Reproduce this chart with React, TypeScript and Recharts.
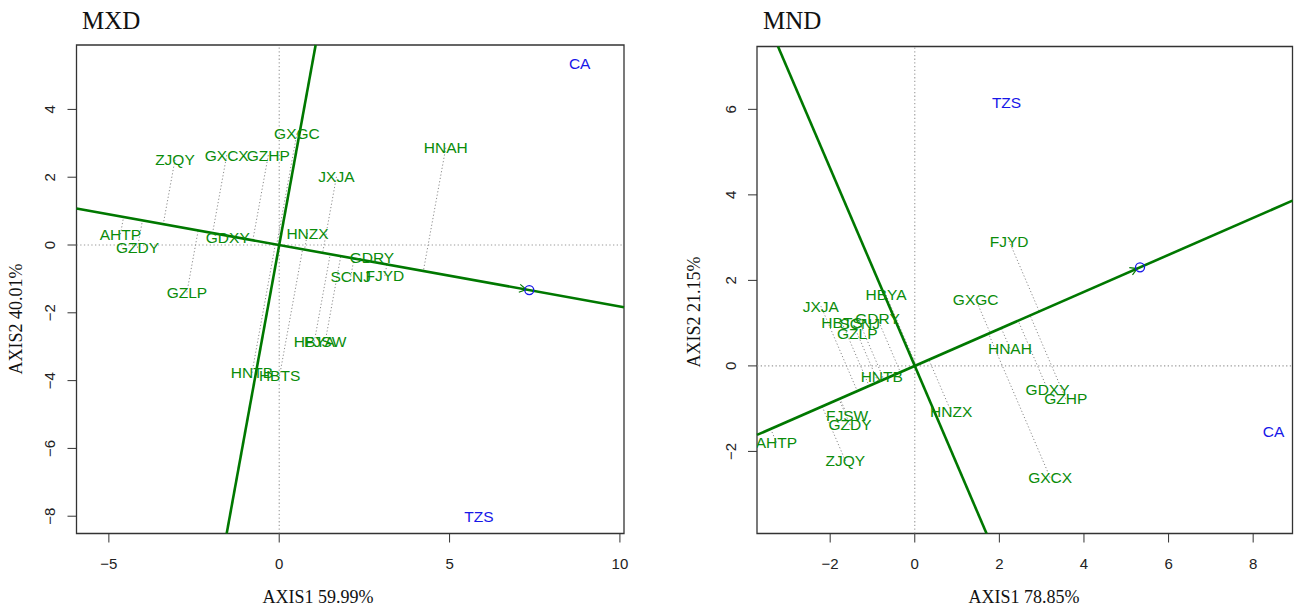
import React from "react";
import { ScatterChart, Scatter, XAxis, YAxis, ReferenceLine, ReferenceArea } from "recharts";

// genotype scores
const genotypes = ["AHTP", "FJSW", "FJYD", "GDRY", "GDXY", "GXCX", "GXGC", "GZDY", "GZHP", "GZLP", "HBTS", "HBYA", "HNAH", "HNTB", "HNZX", "JXJA", "SCNJ", "ZJQY"];
const mxdAxis1 = [-4.66, 1.35, 3.1, 2.72, -1.51, -1.54, 0.52, -4.16, -0.32, -2.71, 0.01, 1.03, 4.89, -0.8, 0.83, 1.68, 2.1, -3.06];
const mxdAxis2 = [0.32, -2.85, -0.91, -0.36, 0.22, 2.65, 3.29, -0.08, 2.65, -1.4, -3.86, -2.85, 2.87, -3.77, 0.35, 2.01, -0.93, 2.51];
const mndAxis1 = [-3.27, -1.6, 2.23, -0.88, 3.14, 3.2, 1.44, -1.53, 3.57, -1.36, -1.72, -0.68, 2.25, -0.78, 0.86, -2.22, -1.3, -1.64];
const mndAxis2 = [-1.79, -1.15, 2.92, 1.1, -0.55, -2.61, 1.56, -1.38, -0.77, 0.76, 1.01, 1.66, 0.41, -0.25, -1.07, 1.4, 1.0, -2.22];

// environment scores
const environments = ["CA", "TZS"];
const mxdEnv1 = [8.82, 5.86];
const mxdEnv2 = [5.34, -8.0];
const mndEnv1 = [8.48, 2.17];
const mndEnv2 = [-1.54, 6.15];

const mxdTicksX = [-5, 0, 5, 10];
const mxdTicksY = [-8, -6, -4, -2, 0, 2, 4];
const mndTicksX = [-2, 0, 2, 4, 6, 8];
const mndTicksY = [-2, 0, 2, 4, 6];

const SANS = "'Liberation Sans', Arial, sans-serif";
const SERIF = "'Liberation Serif', 'Times New Roman', serif";
const GREEN_TEXT = "#0a8c0a";
const GREEN_LINE = "#007800";
const BLUE = "#1717e8";

const fmt = (v: number) => (v < 0 ? "\u2212" + Math.abs(v) : String(v));

function XTick(props: any) {
  const { x, y, payload } = props;
  return (
    <text x={x} y={y + 26} textAnchor="middle" fontFamily={SANS} fontSize={15} fill="#222">
      {fmt(payload.value)}
    </text>
  );
}

function YTick(props: any) {
  const { x, y, payload } = props;
  const bx = x - 12;
  return (
    <text x={bx} y={y} textAnchor="middle" transform={`rotate(-90, ${bx}, ${y})`} fontFamily={SANS} fontSize={15} fill="#222">
      {fmt(payload.value)}
    </text>
  );
}

// line through the origin with direction (dx, dy), cut at the plot box
function throughOrigin(dx: number, dy: number, xd: number[], yd: number[]) {
  let lo = -Infinity;
  let hi = Infinity;
  if (dx !== 0) {
    const a = xd[0] / dx, b = xd[1] / dx;
    lo = Math.max(lo, Math.min(a, b));
    hi = Math.min(hi, Math.max(a, b));
  }
  if (dy !== 0) {
    const a = yd[0] / dy, b = yd[1] / dy;
    lo = Math.max(lo, Math.min(a, b));
    hi = Math.min(hi, Math.max(a, b));
  }
  return [
    { x: lo * dx, y: lo * dy },
    { x: hi * dx, y: hi * dy }
  ];
}

const mean = (a: number[]) => a.reduce((s, v) => s + v, 0) / a.length;

function Label(color: string) {
  return (p: any) => (
    <text x={p.cx} y={p.cy} textAnchor="middle" dominantBaseline="central" fontFamily={SANS} fontSize={15.5} fill={color}>
      {p.payload.name}
    </text>
  );
}

function Panel(props: any) {
  const { left, width, margin, xDomain, yDomain, xTicks, yTicks, g1, g2, e1, e2 } = props;
  const genoData = genotypes.map((name, i) => ({ name, x: g1[i], y: g2[i] }));
  const envData = environments.map((name, i) => ({ name, x: e1[i], y: e2[i] }));
  const mx = mean(e1);
  const my = mean(e2);
  const len = Math.hypot(mx, my);
  const ux = mx / len;
  const uy = my / len;
  const aec = throughOrigin(ux, uy, xDomain, yDomain);
  const perp = throughOrigin(-uy, ux, xDomain, yDomain);
  const proj = genoData.map((g) => {
    const t = g.x * ux + g.y * uy;
    return [{ x: g.x, y: g.y }, { x: t * ux, y: t * uy }];
  });

  const avgShape = (p: any) => {
    const dx = ux, dy = -uy;
    const tipX = p.cx - 3 * dx, tipY = p.cy - 3 * dy;
    const a = Math.PI / 6, L = 8;
    const w1x = tipX - L * (dx * Math.cos(a) - dy * Math.sin(a));
    const w1y = tipY - L * (dx * Math.sin(a) + dy * Math.cos(a));
    const w2x = tipX - L * (dx * Math.cos(-a) - dy * Math.sin(-a));
    const w2y = tipY - L * (dx * Math.sin(-a) + dy * Math.cos(-a));
    return (
      <g>
        <polyline points={`${w1x},${w1y} ${tipX},${tipY} ${w2x},${w2y}`} fill="none" stroke={GREEN_LINE} strokeWidth={1.2} />
        <circle cx={p.cx} cy={p.cy} r={4.5} fill="none" stroke={BLUE} strokeWidth={1.3} />
      </g>
    );
  };

  return (
    <div style={{ position: "absolute", left, top: 0 }}>
      <ScatterChart width={width} height={607} margin={margin}>
        <XAxis type="number" dataKey="x" domain={xDomain} allowDataOverflow ticks={xTicks} interval={0} height={40}
          axisLine={false} tickSize={9} tickMargin={0} tickLine={{ stroke: "#333" }} tick={<XTick />} />
        <YAxis type="number" dataKey="y" domain={yDomain} allowDataOverflow ticks={yTicks} interval={0} width={60}
          axisLine={false} tickSize={9} tickMargin={0} tickLine={{ stroke: "#333" }} tick={<YTick />} />
        <ReferenceLine x={0} stroke="#9a9a9a" strokeDasharray="1.3 2.4" strokeWidth={1.1} />
        <ReferenceLine y={0} stroke="#9a9a9a" strokeDasharray="1.3 2.4" strokeWidth={1.1} />
        {proj.map((seg, i) => (
          <ReferenceLine key={i} segment={seg} stroke="#8c8c8c" strokeDasharray="1.2 2.2" strokeWidth={1} ifOverflow="visible" />
        ))}
        <ReferenceLine segment={aec} stroke={GREEN_LINE} strokeWidth={2.6} ifOverflow="visible" />
        <ReferenceLine segment={perp} stroke={GREEN_LINE} strokeWidth={2.6} ifOverflow="visible" />
        <ReferenceArea x1={xDomain[0]} x2={xDomain[1]} y1={yDomain[0]} y2={yDomain[1]} fill="none" fillOpacity={0}
          stroke="#333" strokeWidth={1.3} ifOverflow="visible" />
        <Scatter data={genoData} shape={Label(GREEN_TEXT)} isAnimationActive={false} />
        <Scatter data={envData} shape={Label(BLUE)} isAnimationActive={false} />
        <Scatter data={[{ x: mx, y: my }]} shape={avgShape} isAnimationActive={false} />
      </ScatterChart>
    </div>
  );
}

export default function App() {
  return (
    <div style={{ position: "absolute", left: 0, top: 0, width: 1295, height: 607, background: "#fff", overflow: "hidden" }}>
      <Panel
        left={0}
        width={640}
        margin={{ top: 45, right: 16, bottom: 33.5, left: 16.5 }}
        xDomain={[-5.95, 10.12]}
        yDomain={[-8.51, 5.9]}
        xTicks={mxdTicksX}
        yTicks={mxdTicksY}
        g1={mxdAxis1}
        g2={mxdAxis2}
        e1={mxdEnv1}
        e2={mxdEnv2}
      />
      <Panel
        left={640}
        width={655}
        margin={{ top: 46.5, right: 2.5, bottom: 33.5, left: 57 }}
        xDomain={[-3.73, 8.93]}
        yDomain={[-3.92, 7.47]}
        xTicks={mndTicksX}
        yTicks={mndTicksY}
        g1={mndAxis1}
        g2={mndAxis2}
        e1={mndEnv1}
        e2={mndEnv2}
      />
      <svg width={1295} height={607} style={{ position: "absolute", left: 0, top: 0, pointerEvents: "none" }}>
        <text x={82} y={29} fontFamily={SERIF} fontSize={25} fill="#111">MXD</text>
        <text x={763} y={29} fontFamily={SERIF} fontSize={25} fill="#111">MND</text>
        <text x={318} y={603} textAnchor="middle" fontFamily={SERIF} fontSize={18} fill="#111">AXIS1 59.99%</text>
        <text x={1024} y={603} textAnchor="middle" fontFamily={SERIF} fontSize={18} fill="#111">AXIS1 78.85%</text>
        <text x={22} y={319} textAnchor="middle" transform="rotate(-90, 22, 319)" fontFamily={SERIF} fontSize={18} fill="#111">AXIS2 40.01%</text>
        <text x={700} y={312} textAnchor="middle" transform="rotate(-90, 700, 312)" fontFamily={SERIF} fontSize={18} fill="#111">AXIS2 21.15%</text>
      </svg>
    </div>
  );
}
